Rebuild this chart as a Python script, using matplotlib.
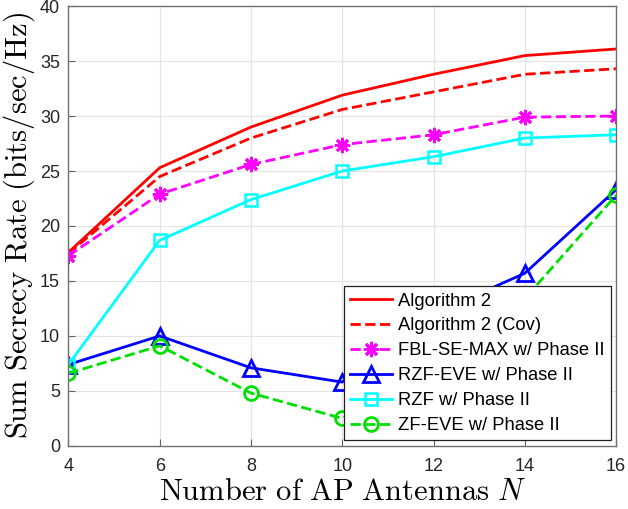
import numpy as np
import matplotlib
matplotlib.use("Agg")
import matplotlib.pyplot as plt

plt.rcParams['font.family'] = ['Liberation Sans', 'DejaVu Sans']
plt.rcParams['mathtext.fontset'] = 'cm'

antennas = [4, 6, 8, 10, 12, 14, 16]
alg2 = [17.6, 25.3, 29.0, 31.9, 33.8, 35.5, 36.1]
alg2_cov = [17.5, 24.5, 28.0, 30.6, 32.2, 33.8, 34.3]
fbl = [17.3, 22.9, 25.6, 27.4, 28.3, 29.9, 30.0]
rzf_eve = [7.4, 10.0, 7.1, 5.8, 12.0, 15.7, 23.3]
rzf = [7.4, 18.7, 22.4, 25.0, 26.3, 28.0, 28.3]
zf_eve = [6.6, 9.1, 4.8, 2.5, 7.0, 13.4, 22.8]

fig = plt.figure(figsize=(6.28, 5.09), dpi=100)
ax = fig.add_axes([0.109, 0.124, 0.872, 0.864])

lw = 2.0
ax.plot(antennas, alg2, '-', color='red', lw=lw, label='Algorithm 2')
ax.plot(antennas, alg2_cov, '--', color='red', lw=lw, label='Algorithm 2 (Cov)')
ax.plot(antennas, fbl, '--', color='magenta', lw=lw, marker=(8, 2, 0), ms=11, mew=2.0,
        label='FBL-SE-MAX w/ Phase II')
ax.plot(antennas, rzf_eve, '-', color='blue', lw=lw, marker='^', ms=11, mfc='none', mew=2.0,
        label='RZF-EVE w/ Phase II')
ax.plot(antennas, rzf, '-', color='cyan', lw=lw, marker='s', ms=8, mfc='none', mew=1.8,
        label='RZF w/ Phase II')
ax.plot(antennas, zf_eve, '--', color='#00e000', lw=lw, marker='o', ms=10, mfc='none', mew=2.0,
        label='ZF-EVE w/ Phase II')

ax.set_xlim(4, 16)
ax.set_ylim(0, 40)
ax.set_xticks(antennas)
ax.set_yticks(np.arange(0, 41, 5))
ax.tick_params(direction='in', labelsize=13, length=5, color='#606060', labelcolor='#262626')
ax.tick_params(axis='x', pad=9)
ax.tick_params(axis='y', pad=6)
ax.grid(True, color='#e3e3e3', lw=0.8)
for s in ax.spines.values():
    s.set_color('#707070')
    s.set_linewidth(1.0)

ax.set_xlabel(r'$\mathrm{Number\ of\ AP\ Antennas}\ N$', fontsize=22, labelpad=1)
ax.set_ylabel(r'$\mathrm{Sum\ Secrecy\ Rate\ (bits/sec/Hz)}$', fontsize=22, labelpad=2)

leg = ax.legend(loc='lower right', fontsize=13.2, fancybox=False, edgecolor='#202020',
                framealpha=1, borderaxespad=0.3, handlelength=2.3, labelspacing=0.43,
                borderpad=0.35, handletextpad=0.3)
leg.get_frame().set_linewidth(0.9)
leg.set_zorder(5)

fig.savefig('out.png', dpi=100)
